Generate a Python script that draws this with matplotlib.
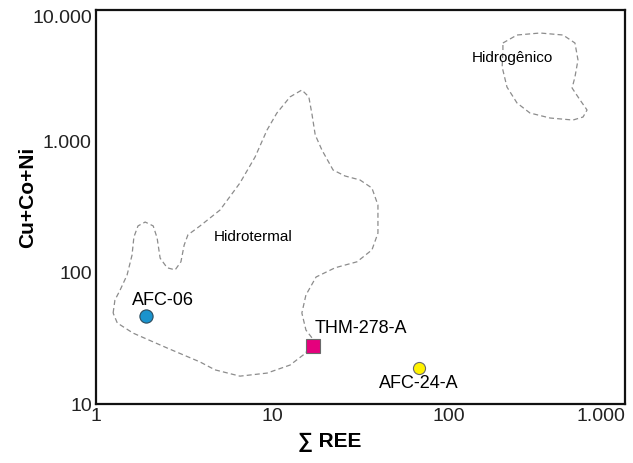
import matplotlib
matplotlib.use('Agg')
import matplotlib.pyplot as plt
from matplotlib.ticker import FuncFormatter, NullLocator

plt.rcParams['font.family'] = ['Liberation Sans', 'DejaVu Sans']

# samples: (sum REE, Cu+Co+Ni)
samples = ['AFC-06', 'THM-278-A', 'AFC-24-A']
ree = [1.92, 17.0, 68.0]
cu_co_ni = [46.8, 27.6, 18.8]

# field outlines
hidrotermal_x = [1.25, 1.28, 1.37, 1.50, 1.60, 1.64, 1.73, 1.90, 2.11, 2.22,
                 2.31, 2.53, 2.81, 3.03, 3.16, 3.32, 3.89, 5.05, 6.55, 7.98,
                 9.33, 10.6, 12.6, 14.7, 16.1, 16.8, 17.5, 19.1, 22.1, 25.8,
                 31.4, 36.7, 39.7, 39.7, 36.7, 30.2, 22.7, 17.7, 15.5, 14.7,
                 15.5, 16.8, 15.5, 12.6, 9.33, 6.55, 4.73, 3.89, 2.53, 1.62,
                 1.32, 1.25]
hidrotermal_y = [49.3, 61.9, 73.8, 96.0, 136, 187, 227, 243, 227, 184,
                 129, 109, 105, 121, 162, 194, 227, 300, 482, 760,
                 1220, 1640, 2180, 2460, 2180, 1590, 1120, 859, 605, 545,
                 508, 441, 327, 200, 149, 121, 109, 92.7, 67.6, 49.3,
                 36.6, 31.8, 24.5, 19.8, 17.2, 16.3, 18.2, 20.9, 26.7, 34.7,
                 41.4, 49.3]

hidrogenico_x = [203, 244, 330, 445, 520, 541, 520, 501, 556, 609,
                 578, 507, 376, 289, 244, 214, 201, 203, 203]
hidrogenico_y = [5607, 6450, 6680, 6450, 5607, 4163, 3090, 2547, 2063, 1732,
                 1532, 1453, 1505, 1643, 1959, 2592, 3681, 4960, 5607]

fig = plt.figure(figsize=(6.33, 4.63), dpi=100)
ax = fig.add_axes([0.1517, 0.1274, 0.8357, 0.851])

dash = dict(color='#8c8c8c', lw=0.9, ls=(0, (4, 2.5)))
ax.plot(hidrotermal_x, hidrotermal_y, **dash)
ax.plot(hidrogenico_x, hidrogenico_y, **dash)

ax.text(7.77, 187, 'Hidrotermal', fontsize=11, ha='center', va='center')
ax.text(229, 4310, 'Hidrogênico', fontsize=11, ha='center', va='center')

ax.plot(ree[0], cu_co_ni[0], 'o', ms=9.5, mfc='#1a93cd', mec='#2b4a5c', mew=0.8)
ax.plot(ree[1], cu_co_ni[1], 's', ms=10, mfc='#e5007d', mec='#6a6a6a', mew=0.8)
ax.plot(ree[2], cu_co_ni[2], 'o', ms=8.7, mfc='#fff200', mec='#6a6a6a', mew=0.8)

ax.annotate(samples[0], (ree[0], cu_co_ni[0]), xytext=(12, 11.5),
            textcoords='offset points', fontsize=13, ha='center', va='center')
ax.annotate(samples[1], (ree[1], cu_co_ni[1]), xytext=(1.5, 13),
            textcoords='offset points', fontsize=13, ha='left', va='center')
ax.annotate(samples[2], (ree[2], cu_co_ni[2]), xytext=(0, -11),
            textcoords='offset points', fontsize=13, ha='center', va='center')

ax.set_xscale('log')
ax.set_yscale('log')
ax.set_xlim(1, 1000)
ax.set_ylim(10, 10000)

fmt = FuncFormatter(lambda v, p: '{:,.0f}'.format(v).replace(',', '.'))
for axis in (ax.xaxis, ax.yaxis):
    axis.set_major_formatter(fmt)
    axis.set_minor_locator(NullLocator())
ax.tick_params(length=0, labelsize=14, pad=3, labelcolor='#222222')

for s in ax.spines.values():
    s.set_linewidth(1.6)
    s.set_color('#111111')

ax.set_xlabel('∑ REE', fontsize=15, fontweight='bold')
ax.set_ylabel('Cu+Co+Ni', fontsize=15, fontweight='bold')
ax.xaxis.set_label_coords(0.442, -0.0736)
ax.yaxis.set_label_coords(-0.1115, 0.525)

# edge labels sit inside the frame like the original
fig.canvas.draw()
for lab in ax.get_xticklabels():
    if lab.get_text() == '1.000':
        lab.set_ha('right')
for lab in ax.get_yticklabels():
    if lab.get_text() == '10.000':
        lab.set_va('top')

fig.savefig('out.png', dpi=100)
